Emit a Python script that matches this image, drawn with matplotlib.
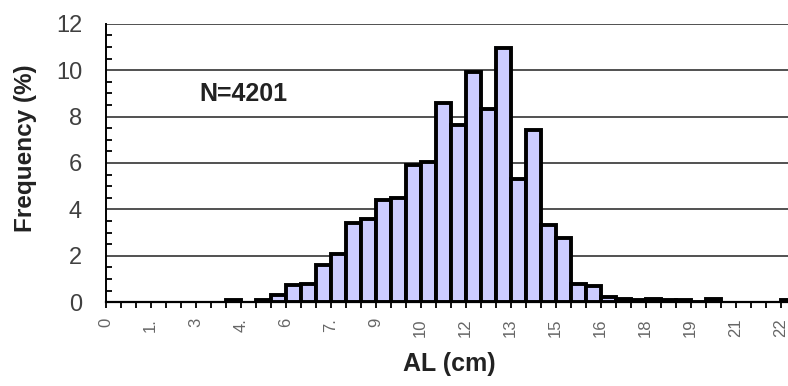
"""
Length-frequency histogram of AL (cm), N=4201.
"""

import numpy as np
from matplotlib import pyplot as plt

plt.rcParams['font.family'] = ['Liberation Sans', 'DejaVu Sans']

# %%
# Data: bin edges every 0.5 cm from 0 to 23, frequency in % per bin
bin_left = np.arange(0, 23, 0.5)
freq = [
    0, 0, 0, 0, 0, 0, 0, 0,          # 0.0 - 4.0
    0.1, 0, 0.1, 0.3,                # 4.0 - 6.0
    0.75, 0.78, 1.62, 2.08,          # 6.0 - 8.0
    3.42, 3.57, 4.4, 4.47,           # 8.0 - 10.0
    5.9, 6.05, 8.6, 7.62,            # 10.0 - 12.0
    9.9, 8.34, 10.95, 5.3,           # 12.0 - 14.0
    7.4, 3.33, 2.78, 0.78,           # 14.0 - 16.0
    0.7, 0.22, 0.15, 0.08,           # 16.0 - 18.0
    0.15, 0.1, 0.08, 0.02,           # 18.0 - 20.0
    0.12, 0, 0, 0,                   # 20.0 - 22.0
    0, 0.1,                          # 22.0 - 23.0
]
xtick_labels = ['0', '1.', '3', '4.', '6', '7.', '9', '10',
                '12', '13', '15', '16', '18', '19', '21', '22']
n_label = 'N=4201'


def main():
    W, H = 788, 386
    fig = plt.figure(figsize=(W / 100, H / 100), dpi=100)
    ax = fig.add_axes([105.7 / W, 1 - 302.1 / H, 690 / W, 278.4 / H])

    # horizontal grid behind the bars
    for yv in range(2, 13, 2):
        ax.axhline(yv, color='#333333', lw=1.2, zorder=1)

    mask = np.array(freq) > 0
    ax.bar(bin_left[mask], np.array(freq)[mask], width=0.5, align='edge',
           color='#CCCCFF', edgecolor='black', linewidth=2.8, zorder=2)

    ax.set_xlim(0, 23)
    ax.set_ylim(0, 12)

    for s in ['top', 'right']:
        ax.spines[s].set_visible(False)
    ax.spines['left'].set_linewidth(1.4)
    ax.spines['bottom'].set_linewidth(1.6)
    ax.spines['left'].set_zorder(3)
    ax.spines['bottom'].set_zorder(3)

    # x: a tick at every bin edge, label every third
    ax.set_xticks(np.arange(0, 23.01, 0.5))
    labels = [''] * len(ax.get_xticks())
    for i, lab in enumerate(xtick_labels):
        labels[i * 3] = lab
    ax.set_xticklabels(labels, rotation=90, fontsize=12, color='#666666')
    ax.tick_params(axis='x', direction='out', length=4.5, width=1.3,
                   pad=7, color='black')

    # y: labels at 0..12 step 2, inward minor ticks at 0.5
    ax.set_yticks(np.arange(0, 12.1, 2))
    ax.set_yticklabels([str(v) for v in range(0, 13, 2)], fontsize=17,
                       color='#404040')
    ax.set_yticks(np.arange(0, 12.1, 0.5), minor=True)
    ax.tick_params(axis='y', which='major', length=0, pad=17)
    ax.tick_params(axis='y', which='minor', direction='in', length=4.5,
                   width=1.3, color='black')

    ax.text(4.59, 8.95, n_label, ha='center', va='center', fontsize=18,
            fontweight='bold', color='#222222')

    fig.text(26 / W, 1 - 148.5 / H, 'Frequency (%)', rotation=90,
             ha='center', va='center', fontsize=17.5, fontweight='bold',
             color='#222222')
    fig.text(449 / W, 1 - 363.5 / H, 'AL (cm)', ha='center', va='center',
             fontsize=18, fontweight='bold', color='#222222')

    fig.savefig('out.png', dpi=100)


if __name__ == '__main__':
    main()
